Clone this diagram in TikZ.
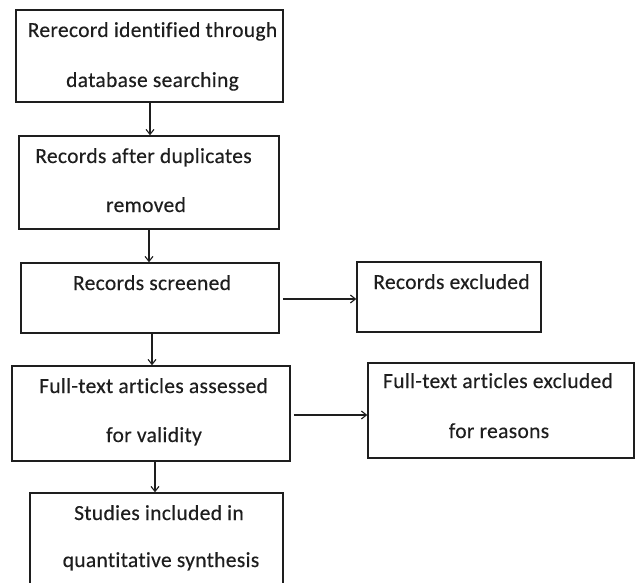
\documentclass[tikz,border=0pt]{standalone}
\usepackage{fontspec}
\setmainfont{Carlito}[Ligatures={NoCommon}, FakeBold=0.3, LetterSpace=1.5]
\usetikzlibrary{arrows.meta}
\definecolor{ink}{HTML}{1E1E1E}
\tikzset{
  box/.style={draw=ink, line width=1.5pt, rectangle, inner sep=0pt},
  txt/.style={anchor=base, inner sep=0pt, text=ink, font=\fontsize{21.5pt}{21.5pt}\selectfont},
  arr/.style={draw=ink, line width=1.2pt, -{Straight Barb[length=5pt,width=8pt,line width=1.1pt]}},
}
\begin{document}
\begin{tikzpicture}[x=1pt,y=-1pt]
\clip (0,0) rectangle (635,583);
\fill[white] (0,0) rectangle (635,583);
% boxes
\node[box, minimum width=267pt, minimum height=92pt] (b1) at (149.5,56) {};
\node[box, minimum width=260pt, minimum height=93pt] (b2) at (149,182.5) {};
\node[box, minimum width=258pt, minimum height=70pt] (b3) at (150,298) {};
\node[box, minimum width=184pt, minimum height=70pt] (b4) at (449,297) {};
\node[box, minimum width=278pt, minimum height=95pt] (b5) at (151,413.5) {};
\node[box, minimum width=266pt, minimum height=95pt] (b6) at (501,410.5) {};
\node[box, minimum width=253pt, minimum height=110pt] (b7) at (156.5,548) {};
% texts
\node[txt] (t1a) at (152.5,37) {Rerecord identified through};
\node[txt] (t1b) at (152.5,87) {database searching};
\node[txt] (t2a) at (143.5,163) {Records after duplicates};
\node[txt] (t2b) at (146,212) {removed};
\node[txt] (t3) at (152,290) {Records screened};
\node[txt] (t4) at (451.5,289) {Records excluded};
\node[txt] (t5a) at (153.5,393) {Full-text articles assessed};
\node[txt] (t5b) at (154,442) {for validity};
\node[txt] (t6a) at (498,388) {Full-text articles excluded};
\node[txt] (t6b) at (499,438) {for reasons};
\node[txt] (t7a) at (159,520) {Studies included in};
\node[txt] (t7b) at (161,567) {quantitative synthesis};
% connectors
\draw[arr] ([xshift=0.5pt]b1.south) -- ([xshift=0.5pt]b1.south |- b2.north);
\draw[arr] (b2.south) -- (b2.south |- b3.north);
\draw[arr] ([xshift=2pt]b3.south) -- ([xshift=2pt]b3.south |- b5.north);
\draw[arr] ([xshift=4pt]b5.south) -- ([xshift=4pt]b5.south |- b7.north);
\draw[arr, shorten <=3pt] ([yshift=-1pt]b3.east) -- ([yshift=-1pt]b3.east -| b4.west);
\draw[arr, shorten <=3pt] ([yshift=-1.5pt]b5.east) -- ([yshift=-1.5pt]b5.east -| b6.west);
\end{tikzpicture}
\end{document}
